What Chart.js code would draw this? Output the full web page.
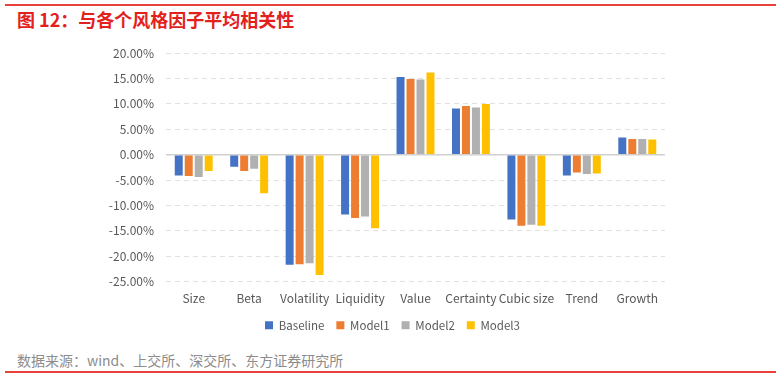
<!DOCTYPE html>
<html>
<head>
<meta charset="utf-8">
<script src="https://cdn.jsdelivr.net/npm/chart.js@4.4.1/dist/chart.umd.min.js"></script>
<style>
  body { margin: 0; width: 782px; height: 378px; background: #fff; position: relative; overflow: hidden; font-family: "Noto Sans CJK SC", sans-serif; }
  .rule { position: absolute; left: 5px; width: 771px; height: 2px; background: #e8413c; }
  #title { position: absolute; left: 17px; top: 6px; font-size: 18px; font-weight: bold; color: #e3211c; white-space: nowrap; }
  #source { position: absolute; left: 17px; top: 350px; font-size: 14px; color: #8c8c8c; white-space: nowrap; }
  #wrap { position: absolute; left: 0; top: 34px; width: 782px; height: 311px; }
</style>
</head>
<body>
<div class="rule" style="top:4px"></div>
<div id="title">图 12：与各个风格因子平均相关性</div>
<div id="wrap"><canvas id="chart1"></canvas></div>
<div id="source">数据来源：wind、上交所、深交所、东方证券研究所</div>
<div class="rule" style="top:371px"></div>
<script>
const factors = ['Size', 'Beta', 'Volatility', 'Liquidity', 'Value', 'Certainty', 'Cubic size', 'Trend', 'Growth'];
const baseline = [-4.1, -2.4, -21.7, -11.8, 15.3, 9.1, -12.8, -4.1, 3.4];
const model1 = [-4.2, -3.2, -21.6, -12.5, 14.9, 9.6, -14.0, -3.5, 3.1];
const model2 = [-4.4, -2.8, -21.4, -12.2, 14.8, 9.3, -13.8, -3.8, 3.1];
const model3 = [-3.2, -7.6, -23.7, -14.5, 16.2, 10.0, -14.0, -3.7, 3.0];

const tickFont = { family: '"Noto Sans CJK SC", sans-serif', size: 12 };

// legend in the original sits a bit right of the canvas centre
const shiftLegend = {
  id: 'shiftLegend',
  afterLayout(chart) {
    const lg = chart.legend;
    if (lg) { lg.left += 60; lg.right += 60; }
  }
};

const ctx = document.getElementById('chart1');
new Chart(ctx, {
  type: 'bar',
  data: {
    labels: factors,
    datasets: [
      { label: 'Baseline', data: baseline, backgroundColor: '#4472C4' },
      { label: 'Model1', data: model1, backgroundColor: '#ED7D31' },
      { label: 'Model2', data: model2, backgroundColor: '#B0B0B0' },
      { label: 'Model3', data: model3, backgroundColor: '#FFC000' }
    ]
  },
  options: {
    responsive: true,
    maintainAspectRatio: false,
    animation: false,
    layout: { padding: { left: 0, right: 117, top: 4, bottom: 4 } },
    datasets: {
      bar: { barPercentage: 0.8, categoryPercentage: 0.72, borderWidth: 0 }
    },
    scales: {
      x: {
        grid: { display: false, drawTicks: false },
        border: { display: false },
        ticks: { color: '#595959', font: tickFont, padding: 10, maxRotation: 0, autoSkip: false },
        afterFit: function (scale) { scale.height = 26; }
      },
      y: {
        min: -25,
        max: 20,
        ticks: {
          stepSize: 5,
          color: '#595959',
          font: tickFont,
          padding: 12,
          callback: v => v.toFixed(2) + '%'
        },
        grid: {
          drawTicks: false,
          color: c => c.tick && c.tick.value === 0 ? '#d0d0d0' : '#e0e0e0',
          lineWidth: c => c.tick && c.tick.value === 0 ? 1.5 : 1
        },
        border: {
          display: false,
          dash: c => c.tick && c.tick.value === 0 ? [] : [5, 4]
        },
        afterFit: function (scale) { scale.width = 166; }
      }
    },
    plugins: {
      legend: {
        position: 'bottom',
        labels: {
          boxWidth: 8,
          boxHeight: 8,
          padding: 12,
          color: '#595959',
          font: { family: '"Noto Sans CJK SC", sans-serif', size: 11.5 }
        }
      },
      tooltip: { enabled: false }
    }
  },
  plugins: [shiftLegend]
});
</script>
</body>
</html>
